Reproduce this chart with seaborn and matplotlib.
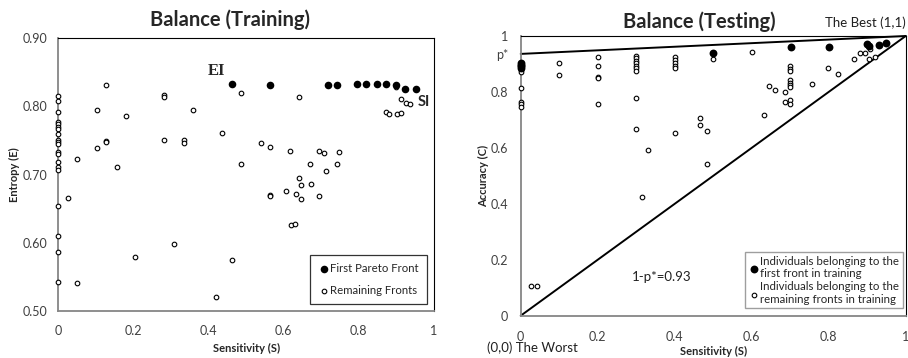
import numpy as np
import pandas as pd
import seaborn as sns
import matplotlib.pyplot as plt

# ---- training (left) ----
train_first_s = [0.462, 0.564, 0.719, 0.743, 0.794, 0.819, 0.848, 0.872, 0.898, 0.923, 0.951]
train_first_e = [0.833, 0.831, 0.831, 0.831, 0.832, 0.832, 0.832, 0.832, 0.831, 0.825, 0.825]

train_zero_e = [0.815, 0.808, 0.791, 0.777, 0.774, 0.770, 0.766, 0.760, 0.751, 0.748,
                0.745, 0.733, 0.730, 0.719, 0.711, 0.707, 0.654, 0.610, 0.587, 0.542]
train_rest_s = [0.128, 0.283, 0.283, 0.104, 0.181, 0.128, 0.128, 0.283, 0.104, 0.051,
                0.156, 0.027, 0.308, 0.206, 0.051, 0.488, 0.642, 0.360, 0.335, 0.335,
                0.437, 0.540, 0.564, 0.617, 0.695, 0.708, 0.748, 0.741, 0.488, 0.669,
                0.713, 0.642, 0.647, 0.672, 0.564, 0.564, 0.607, 0.634, 0.647, 0.695,
                0.620, 0.630, 0.463, 0.420, 0.898, 0.912, 0.926, 0.936, 0.872, 0.880,
                0.902, 0.913]
train_rest_e = [0.831, 0.817, 0.814, 0.794, 0.786, 0.749, 0.747, 0.751, 0.739, 0.723,
                0.711, 0.665, 0.598, 0.579, 0.541, 0.820, 0.813, 0.794, 0.750, 0.746,
                0.761, 0.746, 0.740, 0.734, 0.734, 0.731, 0.733, 0.716, 0.716, 0.716,
                0.705, 0.695, 0.684, 0.686, 0.670, 0.669, 0.676, 0.671, 0.664, 0.668,
                0.626, 0.628, 0.575, 0.521, 0.828, 0.811, 0.805, 0.804, 0.791, 0.788,
                0.788, 0.790]

# ---- testing (right) ----
test_first_s = [0.0, 0.0, 0.0, 0.0, 0.50, 0.701, 0.802, 0.900, 0.904, 0.931, 0.950]
test_first_c = [0.905, 0.898, 0.892, 0.886, 0.941, 0.962, 0.962, 0.970, 0.964, 0.969, 0.975]

test_rest_s = [0, 0, 0, 0, 0, 0,
               0.1, 0.1,
               0.2, 0.2, 0.2, 0.2, 0.2,
               0.3, 0.3, 0.3, 0.3, 0.3, 0.3, 0.3, 0.3, 0.3,
               0.33,
               0.4, 0.4, 0.4, 0.4, 0.4, 0.4,
               0.5, 0.601, 0.467, 0.467, 0.483, 0.483,
               0.316, 0.027, 0.042,
               0.633, 0.645, 0.660,
               0.7, 0.7, 0.7, 0.7, 0.7, 0.7, 0.7, 0.7, 0.7,
               0.686, 0.686,
               0.799, 0.825, 0.757,
               0.867, 0.881, 0.894, 0.907, 0.905, 0.921]
test_rest_c = [0.879, 0.873, 0.815, 0.765, 0.756, 0.745,
               0.905, 0.862,
               0.925, 0.892, 0.855, 0.849, 0.758,
               0.927, 0.920, 0.912, 0.903, 0.894, 0.884, 0.876, 0.777, 0.667,
               0.591,
               0.926, 0.914, 0.905, 0.894, 0.884, 0.654,
               0.918, 0.944, 0.707, 0.681, 0.660, 0.541,
               0.423, 0.107, 0.107,
               0.716, 0.821, 0.807,
               0.893, 0.883, 0.874, 0.843, 0.833, 0.824, 0.817, 0.771, 0.756,
               0.799, 0.765,
               0.885, 0.863, 0.828,
               0.919, 0.938, 0.938, 0.952, 0.917, 0.926]

p_star = 0.936

sns.set_style('white')
plt.rcParams['font.family'] = ['Lato', 'DejaVu Sans']

fig = plt.figure(figsize=(9.08, 3.58), dpi=100)
ax1 = fig.add_axes([58 / 908, 47 / 358, 376 / 908, 273 / 358])
ax2 = fig.add_axes([520.7 / 908, 42.3 / 358, 385 / 908, 279.7 / 358])

gray = '#868686'
tick_col = '#404040'

def style_axes(ax):
    for side in ['left', 'bottom']:
        ax.spines[side].set_color(gray)
        ax.spines[side].set_linewidth(1.3)
    for side in ['top', 'right']:
        ax.spines[side].set_color('black')
        ax.spines[side].set_linewidth(0.8)
    ax.tick_params(length=0, labelsize=9, colors=tick_col)

# left chart
sns.scatterplot(x=[0.0] * len(train_zero_e) + train_rest_s,
                y=train_zero_e + train_rest_e, ax=ax1, s=11,
                facecolor='white', edgecolor='black', linewidth=0.8,
                label='Remaining Fronts', zorder=3, clip_on=False)
sns.scatterplot(x=train_first_s, y=train_first_e, ax=ax1, s=30,
                color='black', linewidth=0, label='First Pareto Front', zorder=4)
ax1.set_xlim(0, 1)
ax1.set_ylim(0.5, 0.9)
ax1.set_xticks(np.arange(0, 1.01, 0.2))
ax1.set_xticklabels(['0', '0.2', '0.4', '0.6', '0.8', '1'])
ax1.set_yticks(np.arange(0.5, 0.91, 0.1))
ax1.set_yticklabels(['0.50', '0.60', '0.70', '0.80', '0.90'])
style_axes(ax1)
ax1.tick_params(axis='x', pad=10)
ax1.tick_params(axis='y', pad=8)
ax1.set_xlabel('Sensitivity (S)', fontsize=8, fontweight='bold')
ax1.set_ylabel('Entropy (E)', fontsize=8, fontweight='bold')
ax1.xaxis.set_label_coords(0.502, -0.117)
ax1.yaxis.set_label_coords(-0.101, 0.5)
h, l = ax1.get_legend_handles_labels()
leg1 = ax1.legend(h[::-1], l[::-1], loc='lower right', bbox_to_anchor=(0.981, 0.025),
                  borderaxespad=0, fancybox=False, edgecolor='black', fontsize=8.2,
                  handletextpad=0.05, handlelength=1.0, labelspacing=1.0,
                  borderpad=0.7, markerscale=1.0)
leg1.get_frame().set_linewidth(0.9)
ax1.text(0.399, 0.852, 'EI', fontsize=12, fontweight='bold', va='center',
         family='Liberation Serif')
ax1.text(0.957, 0.8055, 'SI', fontsize=10.5, fontweight='bold', va='center',
         family=['Lato', 'DejaVu Sans'])

# right chart
ax2.plot([0, 1], [p_star, 1], color='black', lw=1.4, clip_on=False, zorder=2)
ax2.plot([0, 1], [0, 1], color='black', lw=1.4, clip_on=False, zorder=2)
sns.scatterplot(x=test_first_s, y=test_first_c, ax=ax2, s=32, color='black', linewidth=0,
                label='Individuals belonging to the\nfirst front in training', zorder=4,
                clip_on=False)
sns.scatterplot(x=test_rest_s, y=test_rest_c, ax=ax2, s=11,
                facecolor='white', edgecolor='black', linewidth=0.8,
                label='Individuals belonging to the\nremaining fronts in training',
                zorder=3, clip_on=False)
ax2.set_xlim(0, 1)
ax2.set_ylim(0, 1)
ax2.set_xticks(np.arange(0, 1.01, 0.2))
ax2.set_xticklabels(['0', '0.2', '0.4', '0.6', '0.8', '1'])
ax2.set_yticks([0, 0.2, 0.4, 0.6, 0.8, p_star, 1])
ax2.set_yticklabels(['0', '0.2', '0.4', '0.6', '0.8', 'p*', '1'])
style_axes(ax2)
ax2.tick_params(axis='x', pad=11)
ax2.tick_params(axis='y', pad=9)
ax2.set_xlabel('Sensitivity (S)', fontsize=8, fontweight='bold')
ax2.set_ylabel('Accuracy (C)', fontsize=8, fontweight='bold')
ax2.xaxis.set_label_coords(0.501, -0.108)
ax2.yaxis.set_label_coords(-0.082, 0.5)
leg2 = ax2.legend(loc='lower right', bbox_to_anchor=(0.992, 0.026), borderaxespad=0,
                  fancybox=False, edgecolor=gray, fontsize=8.3, handletextpad=0.05,
                  handlelength=1.0, labelspacing=0.15, borderpad=0.3)
leg2.get_frame().set_linewidth(1.0)
ax2.text(0.29, 0.124, '1-p*=0.93', fontsize=9.5, color='#202020')

fig.text(230 / 908, 1 - 20 / 358, 'Balance (Training)', ha='center', va='center',
         fontsize=14.5, fontweight='bold')
fig.text(699 / 908, 1 - 22 / 358, 'Balance (Testing)', ha='center', va='center',
         fontsize=14.5, fontweight='bold')
fig.text(906 / 908, 1 - 23 / 358, 'The Best (1,1)', ha='right', va='center', fontsize=9.5,
         color='#202020')
fig.text(487 / 908, 1 - 348 / 358, '(0,0) The Worst', ha='left', va='center', fontsize=9.5,
         color='#202020')

fig.savefig('out.png', dpi=100)
